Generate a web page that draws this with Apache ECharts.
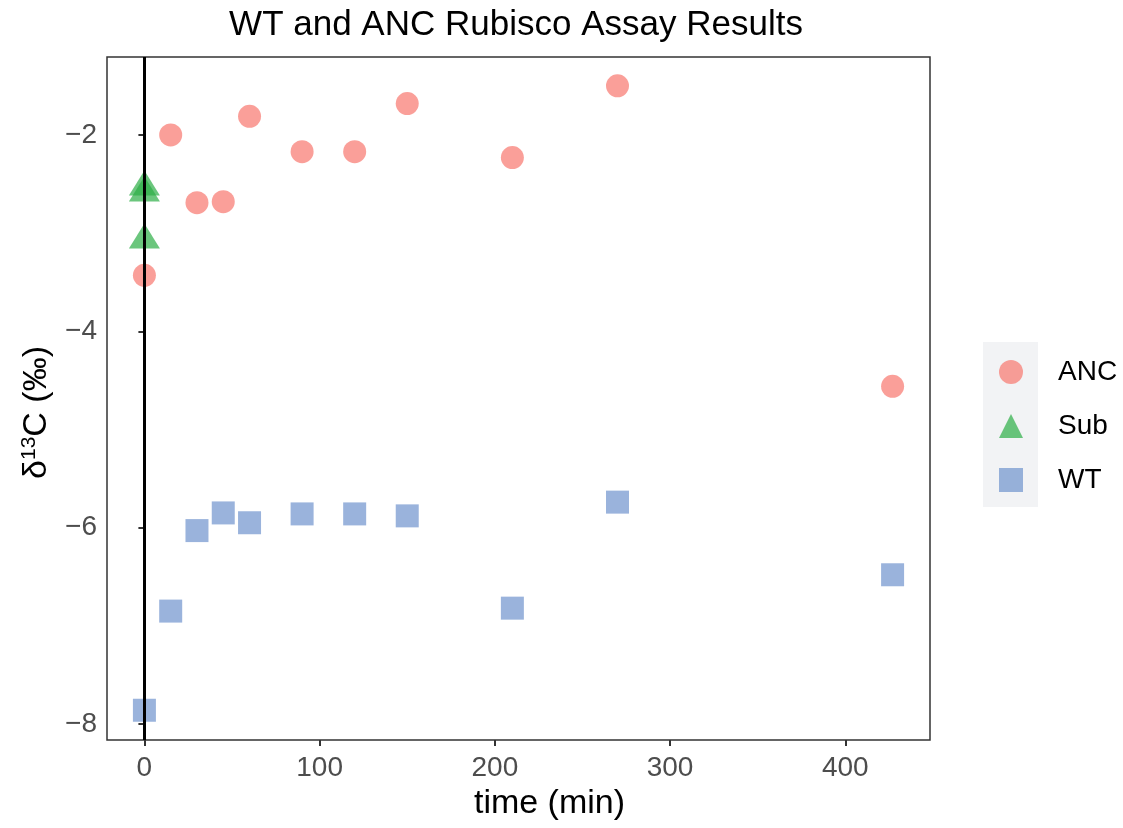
<!DOCTYPE html>
<html>
<head>
<meta charset="utf-8">
<script src="https://cdn.jsdelivr.net/npm/echarts@6/dist/echarts.min.js"></script>
<style>html,body{margin:0;padding:0;background:#fff;}#c{width:1123px;height:828px;}</style>
</head>
<body>
<div id="c"></div>
<script>
const ancTime = [0, 15, 30, 45, 60, 90, 120, 150, 210, 270, 427];
const ancD13C = [-3.43, -2.00, -2.69, -2.68, -1.81, -2.17, -2.17, -1.68, -2.23, -1.50, -4.56];
const subTime = [0, 0, 0];
const subD13C = [-2.49, -2.55, -3.03];
const wtTime = [0, 15, 30, 45, 60, 90, 120, 150, 210, 270, 427];
const wtD13C = [-7.86, -6.85, -6.03, -5.85, -5.95, -5.86, -5.86, -5.88, -6.82, -5.74, -6.48];
const xTicks = [0, 100, 200, 300, 400];
const yTicks = [-8, -6, -4, -2];
const seriesNames = ['ANC', 'Sub', 'WT'];
const xLimits = [-21.35, 448.35];
const yLimits = [-8.163, -1.206];

function pair(xs, ys) { return xs.map((x, i) => [x, ys[i]]); }
const fmt = v => String(v).replace('-', '\u2212');
const FONT = '"Liberation Sans", Arial, Helvetica, sans-serif';

const chart = echarts.init(document.getElementById('c'), null, {renderer: 'canvas'});
chart.setOption({
  animation: false,
  backgroundColor: '#ffffff',
  textStyle: {fontFamily: FONT},
  title: {
    text: 'WT and ANC Rubisco Assay Results',
    left: 511, top: 3, textAlign: 'center',
    textStyle: {fontFamily: FONT, fontSize: 35, fontWeight: 'normal', color: '#000'}
  },
  grid: {left: 107, right: 193, top: 57, bottom: 88, show: true, borderColor: '#333333', borderWidth: 1.5, backgroundColor: 'transparent'},
  graphic: [{
    type: 'rect', left: 983, top: 342, z: -1,
    shape: {width: 55, height: 165},
    style: {fill: '#F2F3F5'}
  }],
  legend: {
    orient: 'vertical', left: 999, top: 358, padding: 0,
    itemWidth: 24, itemHeight: 24, itemGap: 26,
    data: seriesNames,
    textStyle: {fontFamily: FONT, fontSize: 28, color: '#000', padding: [0, 0, 0, 30], lineHeight: 24}
  },
  xAxis: {
    type: 'value', min: xLimits[0], max: xLimits[1],
    name: 'time (min)', nameLocation: 'middle', nameGap: 44,
    nameTextStyle: {fontFamily: FONT, fontSize: 34, color: '#000', padding: [0, 0, 0, 62]},
    axisLine: {show: false},
    axisTick: {show: true, length: 6, lineStyle: {color: '#333', width: 2}, customValues: xTicks},
    axisLabel: {customValues: xTicks, formatter: fmt, fontFamily: FONT, fontSize: 28, color: '#4D4D4D', margin: 14},
    splitLine: {show: false}
  },
  yAxis: {
    type: 'value', min: yLimits[0], max: yLimits[1],
    name: '{n|\u03B4}{s|13}{n|C (\u2030)}', nameLocation: 'middle', nameGap: 51,
    nameTextStyle: {
      fontFamily: FONT, fontSize: 34, color: '#000', padding: [0, 28, 0, 0],
      rich: {
        n: {fontFamily: FONT, fontSize: 34, color: '#000', lineHeight: 34},
        s: {fontFamily: FONT, fontSize: 21, color: '#000', lineHeight: 34, padding: [0, 0, 14, 0]}
      }
    },
    axisLine: {show: false},
    axisTick: {show: true, length: 6, lineStyle: {color: '#333', width: 2}, customValues: yTicks},
    axisLabel: {customValues: yTicks, formatter: fmt, fontFamily: FONT, fontSize: 28, color: '#4D4D4D', margin: 10},
    splitLine: {show: false}
  },
  series: [
    {
      name: 'ANC', type: 'scatter', symbol: 'circle', symbolSize: 23,
      data: pair(ancTime, ancD13C),
      itemStyle: {color: '#F8766D', opacity: 0.7},
      markLine: {
        silent: true, symbol: ['none', 'none'], label: {show: false},
        lineStyle: {color: '#000', width: 3, type: 'solid'},
        data: [{xAxis: 0}]
      },
      z: 3
    },
    {
      name: 'Sub', type: 'scatter', symbol: 'triangle', symbolSize: [31, 25],
      data: pair(subTime, subD13C),
      itemStyle: {color: '#2CAE46', opacity: 0.7},
      z: 3
    },
    {
      name: 'WT', type: 'scatter', symbol: 'rect', symbolSize: 23,
      data: pair(wtTime, wtD13C),
      itemStyle: {color: '#6F93CD', opacity: 0.7},
      z: 3
    }
  ]
});
</script>
</body>
</html>
